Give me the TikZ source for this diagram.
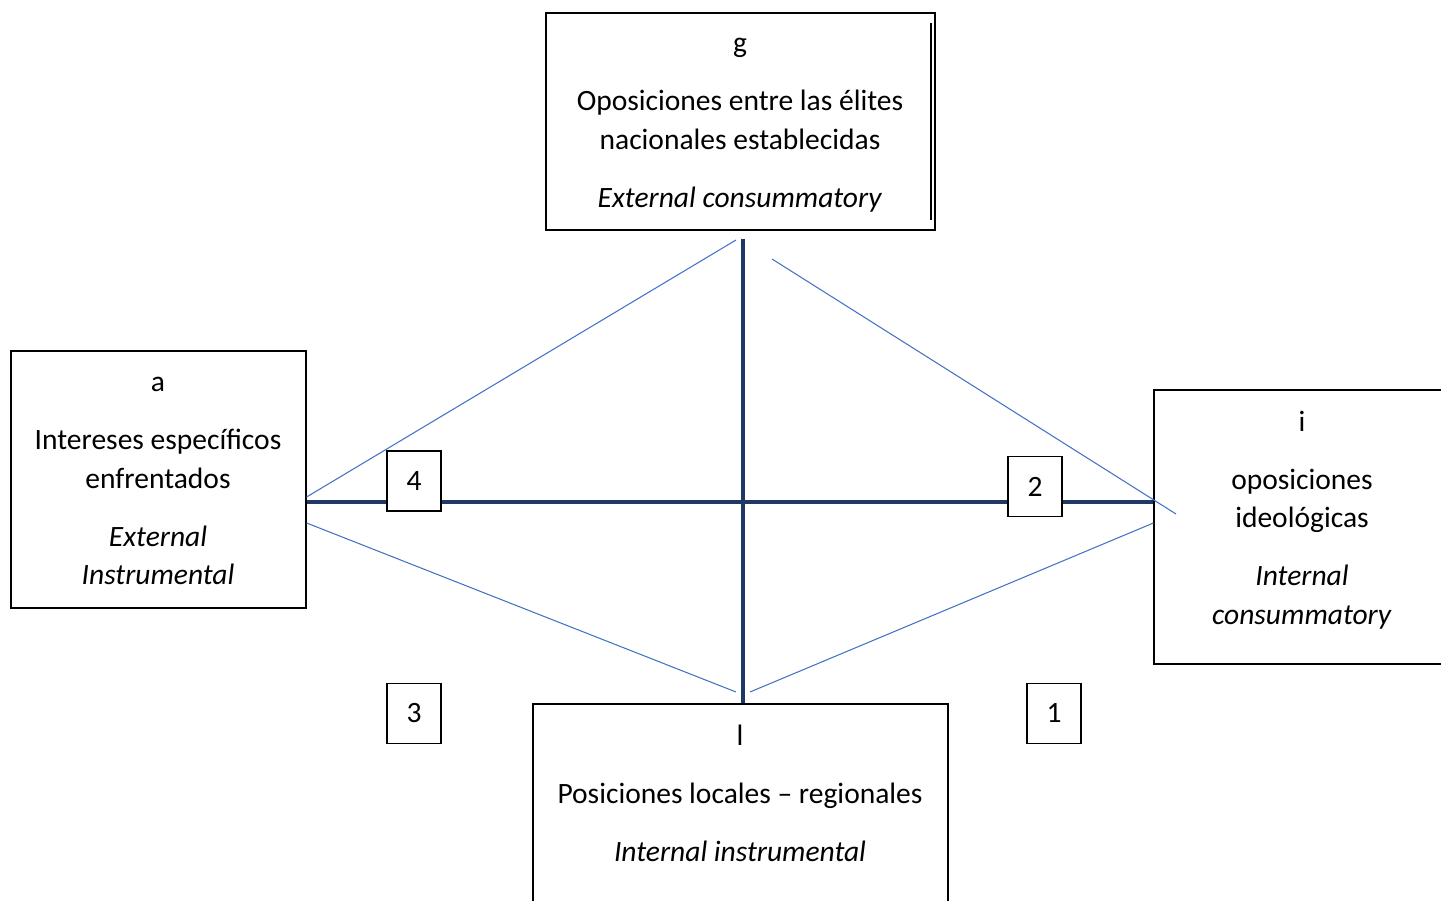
\documentclass[tikz,border=0pt]{standalone}
\usepackage{fontspec}
\setmainfont{Carlito}
\usetikzlibrary{calc}
\definecolor{eje}{RGB}{31,56,100}
\definecolor{diag}{RGB}{68,114,196}

\begin{document}
\begin{tikzpicture}[x=0.02cm, y=-0.02cm,
	caja/.style={draw, rectangle, line width=0.7pt, inner sep=0pt},
	texto/.style={align=center, font=\fontsize{16.8}{22}\selectfont},
	num/.style={draw, rectangle, fill=white, line width=0.7pt, minimum width=1.08cm, minimum height=1.2cm, inner sep=0pt, font=\fontsize{16.8}{20}\selectfont},
	ejelinea/.style={eje, line width=2pt},
	diaglinea/.style={diag, line width=0.6pt}]

	\useasboundingbox (0,0) rectangle (1441,901);

	% Cajas
	\node[caja, minimum width=7.78cm, minimum height=4.34cm] (g) at (740.5,121.5) {};
	\node[caja, minimum width=5.9cm, minimum height=5.14cm] (a) at (158.5,479.5) {};
	\node[caja, minimum width=5.9cm, minimum height=5.48cm] (i) at (1301.5,527) {};
	\node[caja, minimum width=8.3cm, minimum height=5cm] (l) at (740.5,829) {};

	\draw[line width=1.1pt] ($(g.north east)+(-5,11)$) -- ($(g.south east)+(-5,-11)$);

	% Textos
	\node[texto] (gt) at (740,125.5) {g\\[11pt]Oposiciones entre las élites\\nacionales establecidas\\[11pt]\textit{External consummatory}};
	\node[texto] (at) at (158,481) {a\\[11pt]Intereses específicos\\enfrentados\\[11pt]\textit{External}\\\textit{Instrumental}};
	\node[texto] (it) at (1302,520) {i\\[11pt]oposiciones\\ideológicas\\[11pt]\textit{Internal}\\\textit{consummatory}};
	\node[texto] (lt) at (740,793.5) {l\\[11pt]Posiciones locales -- regionales\\[11pt]\textit{Internal instrumental}};

	% Ejes
	\coordinate (ctop) at (743,239);
	\coordinate (cmid) at (743,502);
	\draw[ejelinea] (ctop) -- (ctop |- l.north);
	\draw[ejelinea] (cmid -| a.east) -- (cmid -| i.west);

	% Diagonales
	\coordinate (dgi) at (736,240);
	\coordinate (dgd) at (772,259);
	\coordinate (dli) at (736,692);
	\coordinate (dld) at (750,692);
	\coordinate (did) at (1176,514);

	\draw[diaglinea] ([yshift=-0.35cm]a.east) -- (dgi);
	\draw[diaglinea] ([yshift=-0.87cm]a.east) -- (dli);
	\draw[diaglinea] (dgd) -- (did);
	\draw[diaglinea] ([yshift=0.08cm]i.west) -- (dld);

	% Numeros
	\node[num] (n4) at (414,481) {4};
	\node[num] (n2) at (1035,486.5) {2};
	\node[num] (n3) at (414,713.5) {3};
	\node[num] (n1) at (1054,713.5) {1};
\end{tikzpicture}
\end{document}
